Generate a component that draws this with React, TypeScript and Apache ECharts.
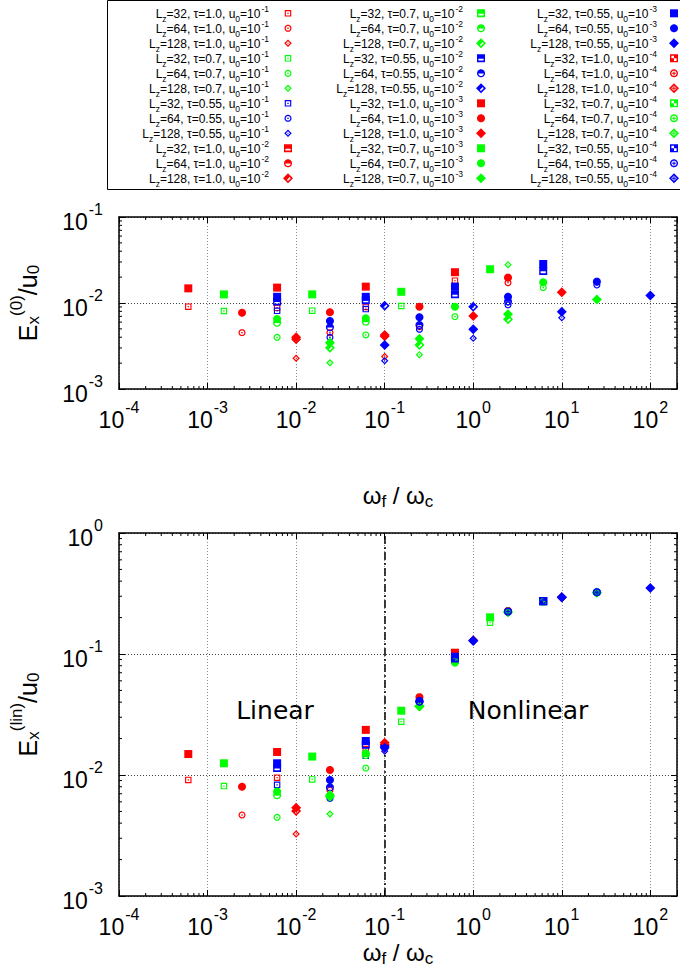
import React, { useEffect, useRef } from 'react';
import * as echarts from 'echarts';

const N = null;

// ---------- descriptors ----------
const TAU = ['1.0', '0.7', '0.55'];
const LZ = ['32', '64', '128'];
const U0_EXP = ['-1', '-2', '-3', '-4'];
const COLORS = ['#ff0000', '#00ff00', '#0000ff'];

// ---------- ω_f/ω_c positions for each (τ, L_z) group ----------
const X_T10_L32 = [6.06e-4, 6.1e-3, 6.12e-2, 0.622];
const X_T10_L64 = [2.45e-3, 2.41e-2, 0.247, 2.47];
const X_T10_L128 = [1.0e-2, 0.1, 1.0, 10];
const X_T07_L32 = [1.53e-3, 1.52e-2, 0.154, 1.55];
const X_T07_L64 = [6.1e-3, 6.12e-2, 0.622, 6.17];
const X_T07_L128 = [2.41e-2, 0.247, 2.47, 24.9];
const X_T055_L32 = [6.1e-3, 6.12e-2, 0.622, 6.17];
const X_T055_L64 = [2.41e-2, 0.247, 2.47, 24.9];
const X_T055_L128 = [0.1, 1.0, 10, 100];

// ---------- E_x^(0)/u0 ; rows: u0 = 1e-1, 1e-2, 1e-3, 1e-4 ----------
const E0_T10_L32 = [[0.00906, 0.0088, 0.009, 0.0182], [N, N, N, N], [0.0148, 0.0151, 0.0155, 0.0228], [N, N, N, N]];
const E0_T10_L64 = [[0.00452, 0.00452, 0.0053, 0.0172], [N, N, N, N], [0.00771, 0.0078, 0.00906, 0.0197], [N, N, N, N]];
const E0_T10_L128 = [[0.00228, 0.00238, N, N], [0.0038, 0.0041, N, N], [0.00399, 0.00425, 0.00706, 0.0133], [N, N, N, N]];
const E0_T07_L32 = [[0.00807, 0.00813, 0.00923, N], [N, N, N, N], [0.0126, 0.0126, 0.0135, 0.0247], [N, N, N, N]];
const E0_T07_L64 = [[0.00399, 0.00425, 0.00694, 0.0151], [0.0059, 0.00607, N, N], [0.00652, 0.00664, 0.00906, 0.0174], [N, N, N, N]];
const E0_T07_L128 = [[0.00202, 0.00251, 0.0279, N], [0.00302, 0.00325, 0.00646, N], [0.00345, 0.00384, 0.0074, 0.011], [N, N, N, N]];
const E0_T055_L32 = [[0.0081, 0.0085, N, N], [0.0104, 0.0108, 0.0126, 0.0236], [0.0118, 0.0118, 0.0155, 0.0284], [N, N, N, N]];
const E0_T055_L64 = [[0.00399, 0.00494, 0.0095, 0.0162], [0.00522, 0.00555, 0.0104, N], [0.00618, 0.00683, 0.0118, 0.0177], [N, N, N, N]];
const E0_T055_L128 = [[0.00213, 0.00389, 0.00675, N], [0.00931, 0.00906, N, N], [0.00325, 0.00494, 0.0079, 0.0122], [N, N, N, N]];

// ---------- E_x^(lin)/u0 ----------
const ELIN_T10_L32 = [[0.0091, 0.0095, 0.0164, 0.094], [N, N, N, N], [0.0149, 0.0155, 0.0236, 0.1025], [N, N, N, N]];
const ELIN_T10_L64 = [[0.00467, 0.0075, 0.0425, 0.222], [N, N, N, N], [0.008, 0.011, 0.044, 0.227], [N, N, N, N]];
const ELIN_T10_L128 = [[0.00325, 0.0163, 0.128, 0.292], [0.00504, 0.0178, N, N], [0.00537, 0.0185, 0.13, 0.295], [N, N, N, N]];
const ELIN_T07_L32 = [[0.0081, 0.0092, 0.0276, 0.1815], [N, N, N, N], [0.0125, 0.0142, 0.034, 0.201], [N, N, N, N]];
const ELIN_T07_L64 = [[0.00447, 0.0114, 0.084, 0.268], [0.0068, 0.0146, N, N], [0.0073, 0.0151, 0.0855, 0.272], [N, N, 0.086, 0.272]];
const ELIN_T07_L128 = [[0.00476, 0.0375, 0.22, 0.32], [0.0066, 0.037, N, N], [0.00684, 0.0372, 0.222, 0.322], [N, 0.0368, 0.221, 0.321]];
const ELIN_T055_L32 = [[0.0083, 0.0144, N, N], [0.0114, 0.0178, 0.094, 0.272], [0.0125, 0.0191, 0.095, 0.274], [N, N, 0.092, 0.274]];
const ELIN_T055_L64 = [[0.0064, 0.04, 0.222, 0.322], [0.0079, 0.0405, 0.223, 0.323], [0.0091, 0.041, 0.224, 0.324], [N, 0.0403, 0.2238, 0.3236]];
const ELIN_T055_L128 = [[0.0157, 0.127, 0.292, N], [0.0174, N, N, N], [0.0168, 0.1288, 0.294, 0.351], [N, 0.1288, 0.294, N]];

// axis ranges & tick decades
const X_MIN = 1e-4;
const X_MAX = 200;
const Y0_MIN = 1e-3;
const Y0_MAX = 1e-1;
const Y1_MIN = 1e-3;
const Y1_MAX = 1;
const MINOR_MULT = [2, 3, 4, 5, 6, 7, 8, 9];
const X_DECADES = [-4, -3, -2, -1, 0, 1, 2];
const Y0_DECADES = [-3, -2];
const Y1_DECADES = [-3, -2, -1];
const REGIME_SPLIT = 0.1;

const GROUP_X = [X_T10_L32, X_T10_L64, X_T10_L128, X_T07_L32, X_T07_L64, X_T07_L128, X_T055_L32, X_T055_L64, X_T055_L128];
const GROUP_E0 = [E0_T10_L32, E0_T10_L64, E0_T10_L128, E0_T07_L32, E0_T07_L64, E0_T07_L128, E0_T055_L32, E0_T055_L64, E0_T055_L128];
const GROUP_ELIN = [ELIN_T10_L32, ELIN_T10_L64, ELIN_T10_L128, ELIN_T07_L32, ELIN_T07_L64, ELIN_T07_L128, ELIN_T055_L32, ELIN_T055_L64, ELIN_T055_L128];

// ---------- symbols (20x20 box) ----------
type P = number[][];
const rev = (p: P): P => p.slice().reverse();
const sp = (p: P) => 'M' + p.map((q) => q[0].toFixed(2) + ' ' + q[1].toFixed(2)).join('L') + 'Z';
const circ = (cx: number, cy: number, r: number, n = 40): P => {
  const pts: P = [];
  for (let i = 0; i < n; i++) {
    const a = (Math.PI * 2 * i) / n;
    pts.push([cx + r * Math.cos(a), cy + r * Math.sin(a)]);
  }
  return pts;
};
const semiLow = (cx: number, cy: number, r: number, n = 20): P => {
  const pts: P = [];
  for (let i = 0; i <= n; i++) {
    const a = (Math.PI * i) / n;
    pts.push([cx + r * Math.cos(a), cy + r * Math.sin(a)]);
  }
  return pts;
};
const plus = (cx: number, cy: number, a: number, w: number): P => [
  [cx - w, cy - a], [cx + w, cy - a], [cx + w, cy - w], [cx + a, cy - w], [cx + a, cy + w], [cx + w, cy + w],
  [cx + w, cy + a], [cx - w, cy + a], [cx - w, cy + w], [cx - a, cy + w], [cx - a, cy - w], [cx - w, cy - w],
];
const SQ: P = [[0, 0], [20, 0], [20, 20], [0, 20]];
const DI: P = [[10, 0], [20, 10], [10, 20], [0, 10]];
const SYMBOL_D: string[][] = [
  [
    sp(SQ) + sp(rev([[3.5, 3.5], [16.5, 3.5], [16.5, 16.5], [3.5, 16.5]])) + sp([[8, 8], [12, 8], [12, 12], [8, 12]]),
    sp(SQ) + sp(rev([[3.5, 11], [16.5, 11], [16.5, 15.5], [3.5, 15.5]])),
    sp(SQ),
    sp(SQ) + sp(rev([[3.5, 3.5], [10, 3.5], [10, 10], [3.5, 10]])) + sp(rev([[10, 10], [16.5, 10], [16.5, 16.5], [10, 16.5]])),
  ],
  [
    sp(circ(10, 10, 10)) + sp(rev(circ(10, 10, 6.5))) + sp(circ(10, 10, 2.3, 16)),
    sp(circ(10, 10, 10)) + sp(rev(semiLow(10, 10.5, 6.5))),
    sp(circ(10, 10, 10)),
    sp(circ(10, 10, 10)) + sp(rev(circ(10, 10, 6.5))) + sp(plus(10, 10, 4.6, 1.3)),
  ],
  [
    sp(DI) + sp(rev([[10, 4.5], [15.5, 10], [10, 15.5], [4.5, 10]])) + sp([[10, 8], [12, 10], [10, 12], [8, 10]]),
    sp(DI) + sp([[13.5, 7.5], [7.5, 13.5], [10, 15.5], [15.5, 10]]),
    sp(DI),
    sp(DI) + sp(rev([[10, 4.5], [15.5, 10], [10, 15.5], [4.5, 10]])) + sp(plus(10, 10, 4, 1)),
  ],
];
const SYMBOL_SIZE = [[6.5, 8, 8, 8], [7, 8, 8, 8], [7.5, 10, 10, 10]];

const SHAPE_NAMES: string[][] = SYMBOL_D.map((row, l) =>
  row.map((d, u) => {
    const nm = `legsym_${l}_${u}`;
    echarts.graphic.registerShape(nm, echarts.graphic.extendPath(d, {}) as any);
    return nm;
  })
);

// ---------- text styles ----------
const FONT = 'Liberation Sans, Arial, Helvetica, sans-serif';
const TICK_RICH = {
  b: { fontSize: 23, fontFamily: FONT, color: '#000', padding: [9, 0, 0, 0], verticalAlign: 'top' },
  s: { fontSize: 16, fontFamily: FONT, color: '#000', padding: [0, 0, 0, 1], verticalAlign: 'top' },
};
const XNAME_RICH = {
  w: { fontSize: 24, fontFamily: FONT, color: '#000', padding: [0, 0, 0, 0], verticalAlign: 'top' },
  sub: { fontSize: 17, fontFamily: FONT, color: '#000', padding: [10, 0, 0, 0], verticalAlign: 'top' },
};
const YNAME_RICH = {
  w: { fontSize: 25, fontFamily: FONT, color: '#000', padding: [7, 0, 0, 0], verticalAlign: 'top' },
  sub: { fontSize: 17, fontFamily: FONT, color: '#000', padding: [17, 0, 0, 0], verticalAlign: 'top' },
  sup: { fontSize: 17, fontFamily: FONT, color: '#000', padding: [0, 0, 0, 0], verticalAlign: 'top' },
};
const LEG_RICH = {
  b: { fontSize: 12, fontFamily: FONT, fill: '#000', padding: [5, 0, 0, 0], verticalAlign: 'top' },
  sub: { fontSize: 8.5, fontFamily: FONT, fill: '#000', padding: [10.7, 0, 0, 0], verticalAlign: 'top' },
  sup: { fontSize: 8.5, fontFamily: FONT, fill: '#000', padding: [1.2, 0, 0, 1], verticalAlign: 'top' },
};

const powLabel = (v: number) => {
  const lg = Math.log10(v);
  const n = Math.round(lg);
  if (Math.abs(lg - n) > 0.01) return '';
  return `{b|10}{s|${n}}`;
};

const GRIDS = [
  { left: 118, top: 217, width: 561, height: 172 },
  { left: 118, top: 533, width: 561, height: 363 },
];

function mainX(gridIndex: number, nameGap: number) {
  return {
    type: 'log', logBase: 10, gridIndex, min: X_MIN, max: X_MAX, position: 'bottom',
    axisLine: { show: true, onZero: false, lineStyle: { color: '#000', width: 1.5 } },
    axisTick: { show: true, inside: true, length: 6, lineStyle: { color: '#000', width: 1 } },
    axisLabel: { show: true, interval: 0, margin: 10, formatter: powLabel, rich: TICK_RICH },
    splitLine: { show: true, lineStyle: { color: '#8a8a8a', type: [1, 2], width: 1 } },
    name: '{w|ω}{sub|f}{w| / ω}{sub|c}', nameLocation: 'middle', nameGap,
    nameTextStyle: { rich: XNAME_RICH },
  };
}
function mirrorX(gridIndex: number) {
  return {
    type: 'log', logBase: 10, gridIndex, min: X_MIN, max: X_MAX, position: 'top',
    axisLine: { show: true, onZero: false, lineStyle: { color: '#000', width: 1.5 } },
    axisTick: { show: true, inside: true, length: 6, lineStyle: { color: '#000', width: 1 } },
    axisLabel: { show: false }, splitLine: { show: false },
  };
}
function mainY(gridIndex: number, min: number, max: number, sup: string) {
  return {
    type: 'log', logBase: 10, gridIndex, min, max, position: 'left',
    axisLine: { show: true, onZero: false, lineStyle: { color: '#000', width: 1.5 } },
    axisTick: { show: true, inside: true, length: 6, lineStyle: { color: '#000', width: 1 } },
    axisLabel: { show: true, interval: 0, margin: 16, formatter: powLabel, rich: TICK_RICH },
    splitLine: { show: true, lineStyle: { color: '#444', type: [1, 2], width: 1 } },
    name: `{w|E}{sub|x}{sup|${sup}}{w|/u}{sub|0}`, nameLocation: 'middle', nameGap: 77, nameRotate: 90,
    nameTextStyle: { rich: YNAME_RICH },
  };
}
function mirrorY(gridIndex: number, min: number, max: number) {
  return {
    type: 'log', logBase: 10, gridIndex, min, max, position: 'right',
    axisLine: { show: true, onZero: false, lineStyle: { color: '#000', width: 1.5 } },
    axisTick: { show: true, inside: true, length: 6, lineStyle: { color: '#000', width: 1 } },
    axisLabel: { show: false }, splitLine: { show: false },
  };
}

const minorVals = (decades: number[], max: number) => {
  const out: number[] = [];
  decades.forEach((d) => MINOR_MULT.forEach((m) => {
    const v = m * Math.pow(10, d);
    if (v < max * 0.999) out.push(v);
  }));
  return out;
};

function minorSeries(gi: number, dir: 'x' | 'y', values: number[], ref: number) {
  return {
    type: 'custom', xAxisIndex: gi * 2, yAxisIndex: gi * 2, silent: true, z: 6, clip: false,
    data: values.map((v) => (dir === 'x' ? [v, ref] : [ref, v])),
    renderItem: (params: any, api: any) => {
      const cs = params.coordSys;
      const p = api.coord([api.value(0), api.value(1)]);
      const st = { stroke: '#000', lineWidth: 1 };
      if (dir === 'x') {
        const yb = cs.y + cs.height;
        const yt = cs.y;
        return {
          type: 'group', children: [
            { type: 'line', shape: { x1: p[0], y1: yb, x2: p[0], y2: yb - 3 }, style: st },
            { type: 'line', shape: { x1: p[0], y1: yt, x2: p[0], y2: yt + 3 }, style: st },
          ],
        };
      }
      const xl = cs.x;
      const xr = cs.x + cs.width;
      return {
        type: 'group', children: [
          { type: 'line', shape: { x1: xl, y1: p[1], x2: xl + 3, y2: p[1] }, style: st },
          { type: 'line', shape: { x1: xr, y1: p[1], x2: xr - 3, y2: p[1] }, style: st },
        ],
      };
    },
  };
}

function buildOption() {
  const series: any[] = [];
  const graphic: any[] = [];
  graphic.push({
    type: 'rect', shape: { x: 107.5, y: 0.5, width: 573, height: 189 },
    style: { fill: 'none', stroke: '#000', lineWidth: 1 }, silent: true,
  });
  const TEXT_RIGHT = [269, 463, 657];
  const SYM_X = [288, 481, 674];
  for (let u = 0; u < 4; u++) {
    for (let t = 0; t < 3; t++) {
      for (let l = 0; l < 3; l++) {
        const g = t * 3 + l;
        const name = `L_z=${LZ[l]}, τ=${TAU[t]}, u_0=10^${U0_EXP[u]}`;
        const xs = GROUP_X[g];
        [GROUP_E0[g][u], GROUP_ELIN[g][u]].forEach((vals, pi) => {
          const data = xs.map((x, i) => (vals[i] == null ? null : [x, vals[i]])).filter((p) => p);
          const s: any = {
            type: 'scatter', name, xAxisIndex: pi * 2, yAxisIndex: pi * 2, data,
            symbol: 'path://' + SYMBOL_D[l][u], symbolSize: SYMBOL_SIZE[l][u],
            itemStyle: { color: COLORS[t], opacity: 1 }, silent: true, z: 3,
            emphasis: { disabled: true },
          };
          if (pi === 1 && u === 0 && t === 0 && l === 0) {
            s.markLine = {
              silent: true, symbol: ['none', 'none'], label: { show: false }, z: 1,
              lineStyle: { color: '#000', type: [8, 3, 2, 3], width: 1.5 },
              data: [{ xAxis: REGIME_SPLIT }],
            };
          }
          series.push(s);
        });
        // legend entry
        const idx = u * 9 + t * 3 + l;
        const col = Math.floor(idx / 12);
        const row = idx % 12;
        const cy = 13.3 + 15 * row;
        graphic.push({
          type: 'text', x: TEXT_RIGHT[col], y: cy, silent: true,
          style: {
            text: `{b|L}{sub|z}{b|=${LZ[l]}, τ=${TAU[t]}, u}{sub|0}{b|=10}{sup|${U0_EXP[u]}}`,
            rich: LEG_RICH, align: 'right', verticalAlign: 'middle', fill: '#000', fontFamily: FONT, fontSize: 12,
          },
        });
        const sz = SYMBOL_SIZE[l][u];
        graphic.push({
          type: SHAPE_NAMES[l][u], x: SYM_X[col] - sz / 2, y: cy - sz / 2, scaleX: sz / 20, scaleY: sz / 20,
          style: { fill: COLORS[t] }, silent: true,
        });
      }
    }
  }
  series.push(minorSeries(0, 'x', minorVals(X_DECADES, X_MAX), 0.01));
  series.push(minorSeries(0, 'y', minorVals(Y0_DECADES, Y0_MAX), 1));
  series.push(minorSeries(1, 'x', minorVals(X_DECADES, X_MAX), 0.01));
  series.push(minorSeries(1, 'y', minorVals(Y1_DECADES, Y1_MAX), 1));

  graphic.push({
    type: 'text', x: 275, y: 710, silent: true,
    style: { text: 'Linear', fontFamily: 'DejaVu Sans', fontSize: 25, fill: '#000', align: 'center', verticalAlign: 'middle' },
  });
  graphic.push({
    type: 'text', x: 528, y: 710, silent: true,
    style: { text: 'Nonlinear', fontFamily: 'DejaVu Sans', fontSize: 25, fill: '#000', align: 'center', verticalAlign: 'middle' },
  });

  return {
    animation: false,
    backgroundColor: '#ffffff',
    textStyle: { fontFamily: FONT },
    grid: GRIDS,
    xAxis: [mainX(0, 94), mirrorX(0), mainX(1, 44), mirrorX(1)],
    yAxis: [mainY(0, Y0_MIN, Y0_MAX, '(0)'), mirrorY(0, Y0_MIN, Y0_MAX), mainY(1, Y1_MIN, Y1_MAX, '(lin)'), mirrorY(1, Y1_MIN, Y1_MAX)],
    series,
    graphic,
  };
}

export default function App() {
  const ref = useRef<HTMLDivElement>(null);
  useEffect(() => {
    if (!ref.current) return;
    const chart = echarts.init(ref.current, null, { renderer: 'svg' });
    chart.setOption(buildOption() as any);
    return () => chart.dispose();
  }, []);
  return (
    <div
      ref={ref}
      style={{ position: 'fixed', left: 0, top: 0, width: 680, height: 979, background: '#fff' }}
    />
  );
}
